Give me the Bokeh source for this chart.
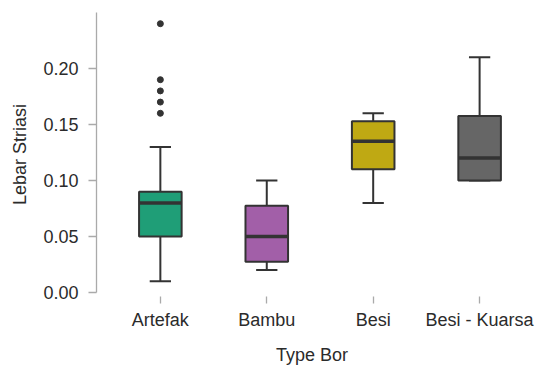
from bokeh.plotting import figure
from bokeh.models import Range1d, FixedTicker, ColumnDataSource
from bokeh.embed import file_html
from bokeh.resources import INLINE

categories = ["Artefak", "Bambu", "Besi", "Besi - Kuarsa"]
lower = [0.01, 0.02, 0.08, 0.10]
q1 = [0.05, 0.0275, 0.11, 0.10]
median = [0.08, 0.05, 0.135, 0.12]
q3 = [0.09, 0.0775, 0.153, 0.1575]
upper = [0.13, 0.10, 0.16, 0.21]
colors = ["#1f9e77", "#a25fa8", "#bfa913", "#666666"]
outlier_cat = ["Artefak", "Artefak", "Artefak", "Artefak", "Artefak"]
outlier_val = [0.24, 0.19, 0.18, 0.17, 0.16]
y_ticks = [0.0, 0.05, 0.10, 0.15, 0.20]

xpos = [i + 1 for i in range(len(categories))]
opos = [categories.index(c) + 1 for c in outlier_cat]

p = figure(width=538, height=368, output_backend="svg", toolbar_location=None,
           x_range=Range1d(0.4, 4.45), y_range=Range1d(-0.0036, 0.25))
p.min_border_top = 12
p.min_border_right = 11
p.min_border_left = 96
p.min_border_bottom = 72
p.outline_line_color = None
p.grid.visible = False
p.background_fill_color = "white"
p.border_fill_color = "white"

font = "Liberation Sans"
tc = "#2b2b2b"
dark = "#333333"

src = ColumnDataSource(dict(x=xpos, lower=lower, q1=q1, median=median, q3=q3,
                            upper=upper, color=colors))

# whiskers
p.segment(x0="x", x1="x", y0="q3", y1="upper", source=src, line_color=dark, line_width=2)
p.segment(x0="x", x1="x", y0="lower", y1="q1", source=src, line_color=dark, line_width=2)
cw = 0.1
p.segment(x0=[x - cw for x in xpos], x1=[x + cw for x in xpos], y0=upper, y1=upper,
          line_color=dark, line_width=2)
p.segment(x0=[x - cw for x in xpos], x1=[x + cw for x in xpos], y0=lower, y1=lower,
          line_color=dark, line_width=2)
# boxes
p.vbar(x="x", width=0.4, bottom="q1", top="q3", source=src, fill_color="color",
       line_color=dark, line_width=2)
# medians
bw = 0.2
p.segment(x0=[x - bw for x in xpos], x1=[x + bw for x in xpos], y0=median, y1=median,
          line_color=dark, line_width=3.5)
# outliers
p.scatter(x=opos, y=outlier_val, size=6, fill_color=dark, line_color=dark)

# y axis
ya = p.yaxis[0]
ya.ticker = FixedTicker(ticks=y_ticks)
ya.major_label_overrides = {t: f"{t:.2f}" for t in y_ticks}
ya.bounds = (0, 0.25)
ya.axis_line_color = "#aaaaaa"
ya.axis_line_width = 1.3
ya.major_tick_line_color = "#aaaaaa"
ya.major_tick_line_width = 1.3
ya.major_tick_out = 8
ya.major_tick_in = 0
ya.minor_tick_line_color = None
ya.major_label_standoff = 10
ya.major_label_text_font = font
ya.major_label_text_font_size = "18px"
ya.major_label_text_color = tc
ya.axis_label = "Lebar Striasi"
ya.axis_label_text_font = font
ya.axis_label_text_font_size = "18px"
ya.axis_label_text_font_style = "normal"
ya.axis_label_text_color = tc
ya.axis_label_standoff = 10

# x axis
xa = p.xaxis[0]
xa.ticker = FixedTicker(ticks=xpos)
xa.major_label_overrides = {x: c for x, c in zip(xpos, categories)}
xa.axis_line_color = None
xa.major_tick_line_color = "#aaaaaa"
xa.major_tick_line_width = 1.3
xa.major_tick_out = 7
xa.major_tick_in = 0
xa.minor_tick_line_color = None
xa.major_label_standoff = 6
xa.major_label_text_font = font
xa.major_label_text_font_size = "18px"
xa.major_label_text_color = tc
xa.axis_label = "Type Bor"
xa.axis_label_text_font = font
xa.axis_label_text_font_size = "18px"
xa.axis_label_text_font_style = "normal"
xa.axis_label_text_color = tc
xa.axis_label_standoff = 12

open("out.html", "w").write(file_html(p, INLINE))
